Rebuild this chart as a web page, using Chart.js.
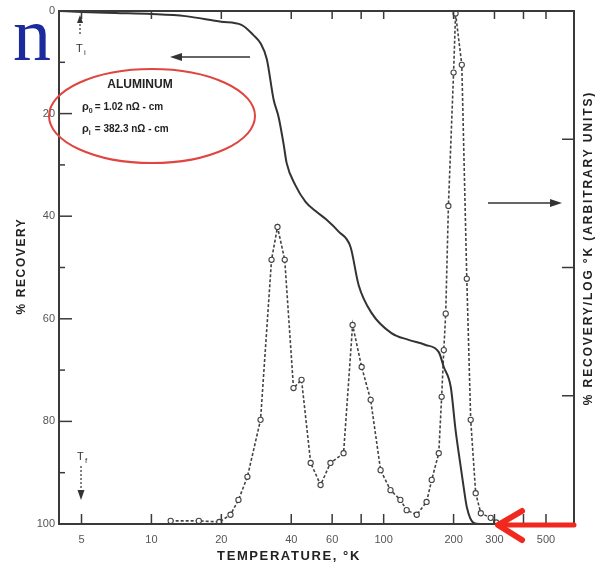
<!DOCTYPE html>
<html>
<head>
<meta charset="utf-8">
<script src="https://cdn.jsdelivr.net/npm/chart.js@4.4.0/dist/chart.umd.min.js"></script>
<style>
  html, body { margin: 0; padding: 0; background: #fff; }
  canvas { display: block; }
</style>
</head>
<body>
<canvas id="chart" width="599" height="569"></canvas>
<script>
// Isochronal recovery of aluminium: % recovery (left axis, reversed)
const recoveryTemps = [4, 5, 7, 10, 14, 20, 24.4, 27.5, 29.5, 31.4, 33.6, 35.3, 37.1, 38.2, 41.7, 46.1, 50.9, 56.8, 64, 72, 78, 88.8, 108, 128, 151.6, 172.7, 181.5, 194.5, 204, 210.5, 221, 228, 244, 260, 300];
const recoveryPct = [0, 0.2, 0.4, 0.6, 1.0, 2.1, 2.7, 4.7, 6.3, 9.4, 17.3, 20.7, 26, 29.6, 34, 37.2, 39, 40.7, 43, 46, 53.4, 58.9, 62.8, 64.1, 65.1, 66.5, 69.4, 73.3, 81.7, 86.2, 92.8, 96.7, 99.8, 100, 100];

// derivative: % recovery / log K (right axis, arbitrary units)
const rateTemps = [12.1, 16, 19.6, 21.9, 23.7, 25.9, 29.5, 32.9, 34.9, 37.5, 40.9, 44.3, 48.5, 53.5, 59, 67.2, 73.5, 80.4, 87.9, 97, 107, 118, 125.6, 138.8, 153, 161, 172.7, 177.7, 181.5, 185, 190, 200, 204, 217, 228, 237, 249, 262, 289, 305];
const rateValues = [0.6, 0.6, 0.4, 1.8, 4.7, 9.2, 20.3, 51.5, 57.9, 51.5, 26.5, 28.1, 11.9, 7.6, 11.9, 13.8, 38.8, 30.6, 24.2, 10.5, 6.6, 4.7, 2.7, 1.8, 4.3, 8.6, 13.8, 24.8, 33.9, 41, 62, 88, 99.5, 89.5, 47.8, 20.3, 6, 2.1, 1.2, 0.3];

const xTickValues = [5, 10, 20, 40, 60, 80, 100, 200, 300, 400, 500];
const xTickLabels = [5, 10, 20, 40, 60, 100, 200, 300, 500];
const rightTickValues = [25, 50, 75];

const labelFont = '"Liberation Sans", "DejaVu Sans", sans-serif';

function drawArrow(ctx, x1, y1, x2, y2, opts) {
  const o = Object.assign({ color: '#333', width: 1.5, head: 11, spread: 4, dash: [] }, opts);
  const ang = Math.atan2(y2 - y1, x2 - x1);
  ctx.save();
  ctx.strokeStyle = o.color;
  ctx.fillStyle = o.color;
  ctx.lineWidth = o.width;
  ctx.setLineDash(o.dash);
  ctx.beginPath();
  ctx.moveTo(x1, y1);
  ctx.lineTo(x2 - Math.cos(ang) * o.head * 0.6, y2 - Math.sin(ang) * o.head * 0.6);
  ctx.stroke();
  ctx.setLineDash([]);
  ctx.beginPath();
  ctx.moveTo(x2, y2);
  ctx.lineTo(x2 - Math.cos(ang) * o.head - Math.sin(ang) * o.spread, y2 - Math.sin(ang) * o.head + Math.cos(ang) * o.spread);
  ctx.lineTo(x2 - Math.cos(ang) * o.head + Math.sin(ang) * o.spread, y2 - Math.sin(ang) * o.head - Math.cos(ang) * o.spread);
  ctx.closePath();
  ctx.fill();
  ctx.restore();
}

// rho with a small subscript, then the rest of the line
function drawRho(ctx, sub, rest, x, y) {
  ctx.font = 'bold 11px ' + labelFont;
  ctx.fillText('ρ', x, y);
  const w = ctx.measureText('ρ').width;
  ctx.font = 'bold 7px ' + labelFont;
  ctx.fillText(sub, x + w, y + 3);
  ctx.font = 'bold 10px ' + labelFont;
  ctx.fillText(rest, x + w + 6, y);
}

// frame, inward ticks, titles and the hand-drawn notes
const annotations = {
  id: 'annotations',
  afterDraw(chart) {
    const { ctx, chartArea: a, scales } = chart;
    ctx.save();

    ctx.strokeStyle = '#3a3a3a';
    ctx.lineWidth = 2;
    ctx.strokeRect(a.left, a.top, a.right - a.left, a.bottom - a.top);

    const seg = (x1, y1, x2, y2) => { ctx.beginPath(); ctx.moveTo(x1, y1); ctx.lineTo(x2, y2); ctx.stroke(); };
    ctx.lineWidth = 1.5;
    xTickValues.forEach(v => {
      const px = scales.x.getPixelForValue(v);
      seg(px, a.bottom, px, a.bottom - 10);
      seg(px, a.top, px, a.top + 8);
    });
    for (let v = 10; v < 100; v += 10) {
      const py = scales.y.getPixelForValue(v);
      seg(a.left, py, a.left + (v % 20 === 0 ? 13 : 6), py);
    }
    rightTickValues.forEach(v => {
      const py = scales.y2.getPixelForValue(v);
      seg(a.right, py, a.right - 12, py);
    });

    // axis titles
    ctx.fillStyle = '#222';
    ctx.font = 'bold 13px ' + labelFont;
    ctx.letterSpacing = '1.6px';
    ctx.textAlign = 'center';
    ctx.textBaseline = 'middle';
    ctx.fillText('TEMPERATURE, °K', 289, 556);

    ctx.font = 'bold 12px ' + labelFont;
    ctx.letterSpacing = '1.6px';
    ctx.save();
    ctx.translate(22, 266);
    ctx.rotate(-Math.PI / 2);
    ctx.fillText('% RECOVERY', 0, 0);
    ctx.restore();

    ctx.letterSpacing = '1.9px';
    ctx.save();
    ctx.translate(589, 248);
    ctx.rotate(-Math.PI / 2);
    ctx.fillText('% RECOVERY/LOG °K (ARBITRARY UNITS)', 0, 0);
    ctx.restore();
    ctx.letterSpacing = '0px';

    // big blue letter
    ctx.fillStyle = '#1b2a9c';
    ctx.font = '76px "Liberation Serif", "DejaVu Serif", serif';
    ctx.textAlign = 'left';
    ctx.textBaseline = 'alphabetic';
    ctx.fillText('n', 13, 60);

    // T_i marker
    ctx.fillStyle = '#333';
    drawArrow(ctx, 80, 34, 80, 15, { dash: [2, 2], head: 8, spread: 3, width: 1.2 });
    ctx.font = '11px ' + labelFont;
    ctx.fillText('T', 76, 52);
    ctx.font = '8px ' + labelFont;
    ctx.fillText('i', 84, 55);

    // T_f marker
    ctx.font = '11px ' + labelFont;
    ctx.fillText('T', 77, 460);
    ctx.font = '8px ' + labelFont;
    ctx.fillText('f', 85, 463);
    drawArrow(ctx, 81, 466, 81, 500, { dash: [2, 2], head: 10, spread: 3.5, width: 1.2 });

    // direction arrows
    drawArrow(ctx, 250, 57, 170, 57, { head: 12, spread: 4 });
    drawArrow(ctx, 488, 203, 562, 203, { head: 12, spread: 4 });

    // material box
    ctx.strokeStyle = '#e0453f';
    ctx.lineWidth = 2;
    ctx.beginPath();
    ctx.ellipse(152, 116, 103, 47, 0, 0, Math.PI * 2);
    ctx.stroke();

    ctx.fillStyle = '#222';
    ctx.textAlign = 'center';
    ctx.font = 'bold 12px ' + labelFont;
    ctx.fillText('ALUMINUM', 140, 88);
    ctx.textAlign = 'left';
    drawRho(ctx, '0', '= 1.02 nΩ - cm', 82, 110);
    drawRho(ctx, 'i', '= 382.3 nΩ - cm', 82, 132);

    // red pointer at room temperature
    ctx.strokeStyle = '#f0281e';
    ctx.lineCap = 'round';
    ctx.lineJoin = 'round';
    ctx.lineWidth = 5;
    seg(574, 525, 503, 525);
    ctx.lineWidth = 6;
    ctx.beginPath();
    ctx.moveTo(522, 511);
    ctx.lineTo(498, 525);
    ctx.lineTo(522, 540);
    ctx.stroke();

    ctx.restore();
  }
};

new Chart(document.getElementById('chart'), {
  type: 'line',
  data: {
    datasets: [
      {
        label: '% recovery',
        data: recoveryTemps.map((t, i) => ({ x: t, y: recoveryPct[i] })),
        yAxisID: 'y',
        borderColor: '#333',
        borderWidth: 2,
        pointRadius: 0,
        cubicInterpolationMode: 'monotone',
        fill: false
      },
      {
        label: '% recovery / log K',
        data: rateTemps.map((t, i) => ({ x: t, y: rateValues[i] })),
        yAxisID: 'y2',
        borderColor: '#444',
        borderWidth: 1.6,
        borderDash: [3, 2],
        tension: 0,
        pointRadius: 2.6,
        pointBackgroundColor: '#fff',
        pointBorderColor: '#444',
        pointBorderWidth: 1.1,
        fill: false
      }
    ]
  },
  options: {
    responsive: false,
    animation: false,
    devicePixelRatio: 1,
    layout: { padding: { top: 11, left: 0, right: 0, bottom: 0 } },
    plugins: { legend: { display: false }, tooltip: { enabled: false } },
    scales: {
      x: {
        type: 'logarithmic',
        min: 4,
        max: 660,
        position: 'bottom',
        grid: { display: false, drawTicks: false },
        border: { display: false },
        afterBuildTicks: axis => { axis.ticks = xTickValues.map(v => ({ value: v })); },
        afterFit: axis => { axis.height = 45; },
        ticks: {
          autoSkip: false,
          maxRotation: 0,
          padding: 9,
          color: '#555',
          font: { size: 11, family: labelFont },
          callback: v => (xTickLabels.includes(v) ? String(v) : '')
        }
      },
      y: {
        type: 'linear',
        position: 'left',
        reverse: true,
        min: 0,
        max: 100,
        grid: { display: false, drawTicks: false },
        border: { display: false },
        afterFit: axis => { axis.width = 59; },
        ticks: { stepSize: 20, padding: 4, color: '#555', font: { size: 11, family: labelFont } }
      },
      y2: {
        type: 'linear',
        position: 'right',
        min: 0,
        max: 100,
        grid: { display: false, drawTicks: false },
        border: { display: false },
        afterFit: axis => { axis.width = 25; },
        ticks: { display: false }
      }
    }
  },
  plugins: [annotations]
});
</script>
</body>
</html>
